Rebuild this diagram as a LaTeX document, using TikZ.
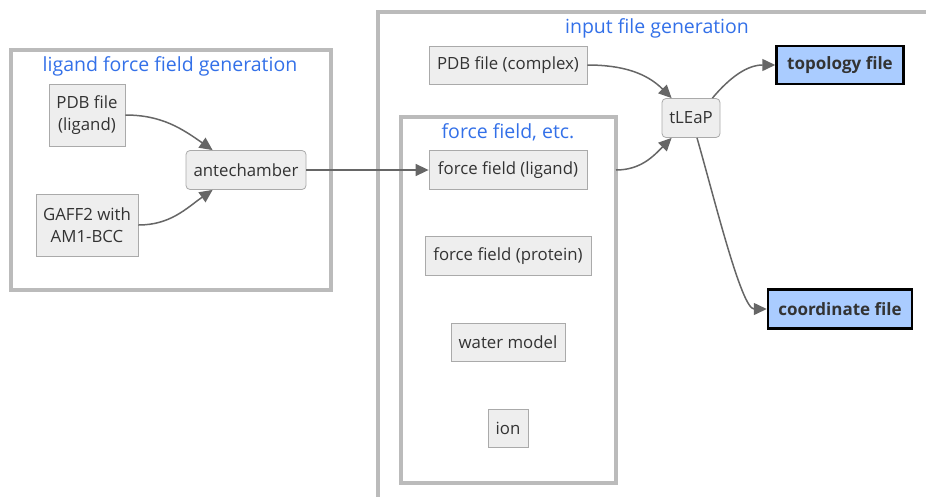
\documentclass[tikz,border=0pt]{standalone}
\usepackage{fontspec}
\setmainfont{Open Sans}
\usetikzlibrary{arrows.meta}

\definecolor{boxfill}{HTML}{EEEEEE}
\definecolor{boxline}{HTML}{AAAAAA}
\definecolor{clusterline}{HTML}{BBBBBB}
\definecolor{labelblue}{HTML}{3370E8}
\definecolor{edgegray}{HTML}{666666}
\definecolor{outfill}{HTML}{AACCFF}

\tikzset{>={Triangle[length=13pt,width=12pt]}}
\tikzset{
  proc/.style={draw=boxline, fill=boxfill, text=black!80, line width=0.8pt,
    inner sep=0pt, align=center, font=\fontsize{16.8}{22}\selectfont},
  tool/.style={proc, rounded corners=4pt},
  outfile/.style={draw=black, fill=outfill, text=black!80, line width=2.5pt,
    inner sep=0pt, font=\fontsize{17}{22}\selectfont\bfseries},
  cluster/.style={draw=clusterline, line width=4pt},
  clabel/.style={text=labelblue, font=\fontsize{19.5}{24}\selectfont},
  flow/.style={->, draw=edgegray, line width=1.5pt}
}

\begin{document}
\begin{tikzpicture}[x=1pt,y=-1pt]

    \useasboundingbox (0,0) rectangle (926,496);

    % clusters
    \draw[cluster] (11,50) rectangle (331,290);
    \node[clabel] (ligandlabel) at (170,66) {ligand force field generation};

    \draw[cluster] (930,12) -- (378,12) -- (378,500);
    \node[clabel] (inputlabel) at (657,28) {input file generation};

    \draw[cluster] (401,117) rectangle (616,483);
    \node[clabel] (fflabel) at (508,132) {force field, etc.};

    % ligand side
    \node[proc, minimum width=76, minimum height=62] (pdbligand) at (87,115) {PDB file\\(ligand)};
    \node[proc, minimum width=102, minimum height=62] (gaff) at (87,225) {GAFF2 with\\AM1-BCC};
    \node[tool, minimum width=120, minimum height=39] (ante) at (246,170) {antechamber};

    % input side
    \node[proc, minimum width=158, minimum height=38] (pdbcomplex) at (508,65) {PDB file (complex)};
    \node[proc, minimum width=158, minimum height=39] (ffligand) at (508,170) {force field (ligand)};
    \node[proc, minimum width=166, minimum height=39] (ffprotein) at (508,256) {force field (protein)};
    \node[proc, minimum width=114, minimum height=38] (water) at (508,342) {water model};
    \node[proc, minimum width=40, minimum height=38] (ion) at (508,428) {ion};
    \node[tool, minimum width=58, minimum height=39] (tleap) at (691,118) {tLEaP};

    \node[outfile, minimum width=127, minimum height=38] (topology) at (840,65) {topology file};
    \node[outfile, minimum width=144, minimum height=39] (coordinate) at (840,309) {coordinate file};

    \coordinate (fftail) at (616,170);

    % edges
    \draw[flow] (pdbligand.east) to[out=0, in=145] ([xshift=27pt]ante.north west);
    \draw[flow] (gaff.east) to[out=0, in=-145] ([xshift=27pt]ante.south west);
    \draw[flow] (ante.east) -- (ffligand.west);

    \draw[flow] (pdbcomplex.east) to[out=0, in=135] ([xshift=10pt]tleap.north west);
    \draw[flow] (fftail) to[out=0, in=-135] ([xshift=10pt]tleap.south west);
    \draw[flow] ([xshift=-8pt]tleap.north east) to[out=50, in=180] (topology.west);
    \draw[flow] ([xshift=6pt]tleap.south) to[out=-74, in=180, out looseness=0.9, in looseness=0.35] (coordinate.west);

\end{tikzpicture}
\end{document}
